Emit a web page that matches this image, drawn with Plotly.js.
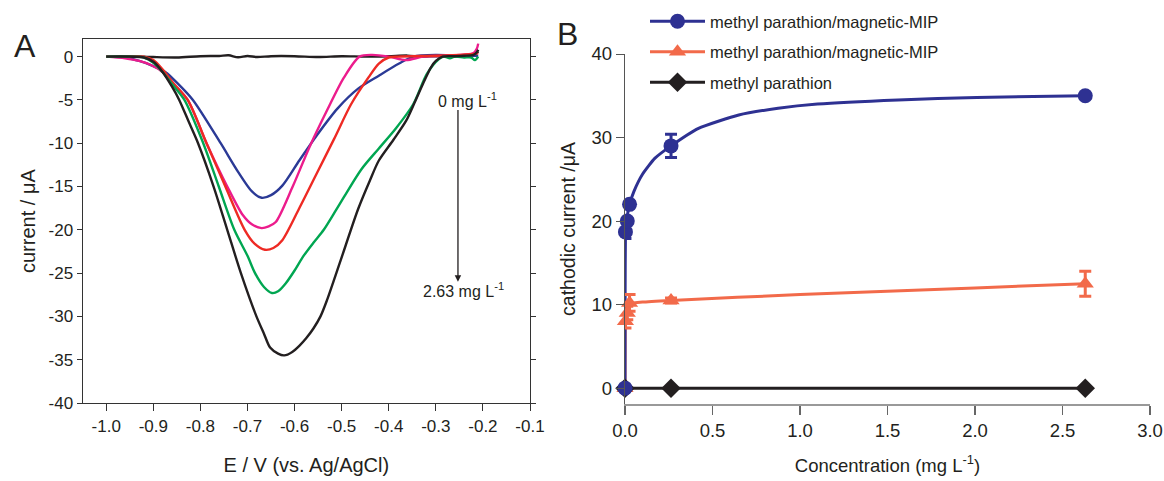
<!DOCTYPE html>
<html>
<head>
<meta charset="utf-8">
<script src="https://cdn.plot.ly/plotly-3.0.1.min.js"></script>
<style>html,body{margin:0;padding:0;background:#fff;}#chart{width:1164px;height:481px;}</style>
</head>
<body>
<div id="chart"></div>
<script>
// ---------- Panel A: voltammograms ----------
const blankE = [-1.0,-0.95,-0.9,-0.85,-0.8,-0.76,-0.74,-0.72,-0.7,-0.68,-0.65,-0.6,-0.55,-0.5,-0.45,-0.4,-0.36,-0.33,-0.3,-0.25,-0.22,-0.21];
const blankI = [0,0.05,-0.05,-0.1,0.05,0.08,0.15,-0.08,0.08,-0.05,0.05,0.05,-0.05,0.05,0,0.05,0.12,0,0.05,0,0.1,0.6];

const blueE = [-1.0,-0.96,-0.93,-0.904,-0.874,-0.85,-0.816,-0.757,-0.72,-0.69,-0.67,-0.65,-0.626,-0.59,-0.553,-0.509,-0.465,-0.421,-0.378,-0.348,-0.3,-0.25,-0.21];
const blueI = [0,-0.1,-0.5,-1.0,-1.8,-3.0,-5,-10,-13.3,-15.6,-16.3,-16.0,-14.9,-12,-9.1,-6.0,-3.7,-2.2,-0.8,0,0.2,0.1,0.1];

const magE = [-1.0,-0.96,-0.93,-0.904,-0.88,-0.86,-0.827,-0.787,-0.743,-0.71,-0.69,-0.67,-0.655,-0.64,-0.604,-0.568,-0.531,-0.495,-0.462,-0.436,-0.4,-0.363,-0.327,-0.28,-0.22,-0.213,-0.21];
const magI = [0,-0.2,-0.5,-1.0,-1.8,-3.0,-5,-10,-15,-18.3,-19.4,-19.8,-19.6,-19.1,-15,-10.4,-6.2,-2.4,0,0.2,0,-0.4,0,0.1,0.4,0.9,1.5];

const redE = [-1.0,-0.95,-0.92,-0.9,-0.88,-0.86,-0.827,-0.787,-0.747,-0.706,-0.685,-0.663,-0.645,-0.626,-0.589,-0.553,-0.516,-0.48,-0.443,-0.421,-0.4,-0.38,-0.3,-0.25,-0.22,-0.21];
const redI = [0,0,0,-0.4,-1.5,-2.9,-5,-10,-15,-20,-21.6,-22.3,-22.1,-21.2,-17.4,-13.5,-9.5,-5.5,-2.4,-0.8,-0.1,0,0.1,0.2,0.3,0.4];

const greenE = [-1.0,-0.95,-0.92,-0.9,-0.88,-0.86,-0.834,-0.794,-0.761,-0.728,-0.7,-0.684,-0.665,-0.648,-0.635,-0.619,-0.6,-0.582,-0.56,-0.538,-0.515,-0.495,-0.458,-0.421,-0.385,-0.348,-0.319,-0.294,-0.283,-0.27,-0.26,-0.24,-0.225,-0.217,-0.21];
const greenI = [0,0,-0.1,-0.7,-1.8,-3.2,-5,-10,-15,-20,-23,-25,-26.6,-27.3,-27.1,-26.2,-24.7,-23.1,-21.5,-20,-18,-16.2,-13.0,-10.6,-8.3,-5.5,-2.0,-0.3,0,-0.2,0,-0.1,-0.1,-0.4,0];

const blackE = [-1.0,-0.95,-0.92,-0.9,-0.88,-0.86,-0.845,-0.825,-0.805,-0.772,-0.743,-0.714,-0.681,-0.665,-0.652,-0.635,-0.622,-0.605,-0.59,-0.575,-0.56,-0.545,-0.531,-0.502,-0.465,-0.44,-0.421,-0.39,-0.363,-0.345,-0.327,-0.31,-0.3,-0.286,-0.26,-0.24,-0.22,-0.213,-0.21];
const blackI = [0,0,-0.1,-0.6,-1.8,-3.5,-5,-7.5,-10,-15,-20,-25,-30,-32,-33.6,-34.3,-34.5,-34.1,-33.4,-32.5,-31.4,-30.0,-28.1,-23.5,-17.6,-14.3,-12.0,-9.6,-7.4,-5.3,-3.1,-1.2,-0.5,0,0.05,0.1,0.2,0.5,0.8];

const aXTicks = [-1.0,-0.9,-0.8,-0.7,-0.6,-0.5,-0.4,-0.3,-0.2,-0.1];
const aXLabels = ["-1.0","-0.9","-0.8","-0.7","-0.6","-0.5","-0.4","-0.3","-0.2","-0.1"];
const aYTicks = [0,-5,-10,-15,-20,-25,-30,-35,-40];
const aYLabels = ["0","-5","-10","-15","-20","-25","-30","-35","-40"];

// ---------- Panel B: calibration ----------
const conc = [0,0.0026,0.013,0.026,0.263,2.63];
const mipI = [0,18.7,20.0,22.0,29.0,35.0];
const mipErr = [0,0.8,0.3,0.3,1.4,0.3];
const nipI = [0,8.0,9.0,10.2,10.5,12.5];
const nipErr = [0,0.8,0.8,1.0,0.3,1.5];
const mpConc = [0,0.263,2.63];
const mpI = [0,0,0];

const mipFitX = [0,0.0008,0.0026,0.006,0.013,0.026,0.05,0.1,0.17,0.263,0.42,0.65,0.875,1.1,1.56,2.01,2.63];
const mipFitY = [0,12,18.2,19.5,20.6,22.0,23.5,25.6,27.5,29.0,31.1,32.7,33.5,34.0,34.5,34.8,35.0];
const nipFitX = [0,0.0008,0.003,0.013,0.026,0.1,0.263,1.0,2.0,2.63];
const nipFitY = [0,7,9.4,9.9,10.1,10.3,10.5,11.2,12.0,12.5];

const bXTicks = [0,0.5,1.0,1.5,2.0,2.5,3.0];
const bXLabels = ["0.0","0.5","1.0","1.5","2.0","2.5","3.0"];
const bYTicks = [0,10,20,30,40];

const legendNames = ["methyl parathion/magnetic-MIP","methyl parathion/magnetic-MIP","methyl parathion"];

const cBlue = "#2e3192", cOrange = "#f26a4a", cBlack = "#231f20";
const FONT = "Liberation Sans, Arial, sans-serif";

function vt(x, y, color) {
  return {x:x, y:y, mode:"lines", type:"scatter", xaxis:"x", yaxis:"y", showlegend:false,
    line:{color:color, width:2.4, shape:"spline", smoothing:0.8}, hoverinfo:"skip"};
}

const MS = 15;
const traces = [
  vt(blankE, blankI, cBlack),
  vt(blueE, blueI, "#2b3a96"),
  vt(magE, magI, "#ec1c8c"),
  vt(redE, redI, "#ee2a24"),
  vt(greenE, greenI, "#00a651"),
  vt(blackE, blackI, cBlack),
  // Panel B fits
  {x:mpConc, y:mpI, mode:"lines", xaxis:"x2", yaxis:"y2", showlegend:false, line:{color:cBlack, width:3}},
  {x:nipFitX, y:nipFitY, mode:"lines", xaxis:"x2", yaxis:"y2", showlegend:false, line:{color:cOrange, width:3, shape:"spline", smoothing:0.5}},
  {x:mipFitX, y:mipFitY, mode:"lines", xaxis:"x2", yaxis:"y2", showlegend:false, line:{color:cBlue, width:3, shape:"spline", smoothing:0.5}},
  // Panel B points
  {x:conc, y:nipI, mode:"markers", xaxis:"x2", yaxis:"y2", showlegend:false, cliponaxis:false,
    marker:{symbol:"triangle-up", size:MS, color:cOrange},
    error_y:{type:"data", array:nipErr, visible:true, color:cOrange, thickness:3, width:6}},
  {x:mpConc, y:mpI, mode:"markers", xaxis:"x2", yaxis:"y2", showlegend:false, cliponaxis:false,
    marker:{symbol:"diamond", size:MS, color:cBlack}},
  {x:conc, y:mipI, mode:"markers", xaxis:"x2", yaxis:"y2", showlegend:false, cliponaxis:false,
    marker:{symbol:"circle", size:MS, color:cBlue},
    error_y:{type:"data", array:mipErr, visible:true, color:cBlue, thickness:3, width:6}},
  // Legend entries
  {x:[null], y:[null], mode:"lines+markers", xaxis:"x2", yaxis:"y2", name:legendNames[0], legendgroup:"g1",
    line:{color:cBlue, width:3}, marker:{symbol:"circle", size:MS, color:cBlue}},
  {x:[null], y:[null], mode:"lines+markers", xaxis:"x2", yaxis:"y2", name:legendNames[1], legendgroup:"g2",
    line:{color:cOrange, width:3}, marker:{symbol:"triangle-up", size:MS, color:cOrange}},
  {x:[null], y:[null], mode:"lines+markers", xaxis:"x2", yaxis:"y2", name:legendNames[2], legendgroup:"g3",
    line:{color:cBlack, width:3}, marker:{symbol:"diamond", size:MS, color:cBlack}}
];

const L=80, R=10, T=0, B=0, W=1164-L-R, H=481-T-B;
function px(xp){return (xp-L)/W;}
function py(yp){return (481-B-yp)/H;}

const layout = {
  width:1164, height:481,
  margin:{l:L, r:R, t:T, b:B},
  paper_bgcolor:"#fff", plot_bgcolor:"rgba(0,0,0,0)",
  font:{family:FONT, color:"#231f20", size:14},
  showlegend:true,
  legend:{x:px(645), y:py(4), xanchor:"left", yanchor:"top", traceorder:"grouped", tracegroupgap:6,
    font:{family:FONT, size:16.5, color:"#231f20"}, bgcolor:"rgba(0,0,0,0)", itemwidth:55},
  xaxis:{domain:[px(82.7), px(530)], range:[-1.05,-0.1], tickvals:aXTicks, ticktext:aXLabels,
    showgrid:false, zeroline:false, showline:true, linecolor:"#333", linewidth:1.2, mirror:true,
    ticks:"outside", ticklen:7, tickcolor:"#333", tickfont:{size:17},
    title:{text:"E / V (vs. Ag/AgCl)", font:{size:20}, standoff:23}},
  yaxis:{domain:[py(403), py(39.3)], range:[-40,2], tickvals:aYTicks, ticktext:aYLabels,
    showgrid:false, zeroline:false, showline:true, linecolor:"#333", linewidth:1.2, mirror:"ticks",
    ticks:"outside", ticklen:5, tickcolor:"#333", tickfont:{size:17},
    title:{text:"current / μA", font:{size:20}, standoff:7}},
  xaxis2:{domain:[px(625), px(1150)], range:[0,3], anchor:"y2", tickvals:bXTicks, ticktext:bXLabels,
    showgrid:false, zeroline:false, showline:true, linecolor:"#999", linewidth:1.6,
    ticks:"outside", ticklen:9, tickcolor:"#666", tickwidth:1.2, tickfont:{size:18.5},
    title:{text:"Concentration (mg L<sup>-1</sup>)", font:{size:18.5}, standoff:19}},
  yaxis2:{domain:[py(404), py(54)], range:[-1.9,40], anchor:"x2", tickvals:bYTicks,
    showgrid:false, zeroline:false, showline:true, linecolor:"#555", linewidth:1.3,
    ticks:"outside", ticklen:8, tickcolor:"#555", tickfont:{size:18.5},
    title:{text:"cathodic current /μA", font:{size:19.5}, standoff:10}},
  annotations:[
    {xref:"paper", yref:"paper", x:px(12), y:py(46), text:"A", showarrow:false, xanchor:"left", yanchor:"middle", font:{size:32, color:"#231f20"}},
    {xref:"paper", yref:"paper", x:px(555), y:py(34), text:"B", showarrow:false, xanchor:"left", yanchor:"middle", font:{size:32, color:"#231f20"}},
    {xref:"x", yref:"y", x:-0.300, y:-5.0, text:"0 mg L<sup>-1</sup>", showarrow:false, xanchor:"left", yanchor:"middle", font:{size:16}},
    {xref:"x", yref:"y", x:-0.332, y:-27.0, text:"2.63 mg L<sup>-1</sup>", showarrow:false, xanchor:"left", yanchor:"middle", font:{size:16}},
    {xref:"x", yref:"y", axref:"x", ayref:"y", x:-0.253, y:-26.0, ax:-0.253, ay:-6.0, text:"", showarrow:true,
      arrowhead:2, arrowsize:1, arrowwidth:1.3, arrowcolor:"#231f20"}
  ]
};

Plotly.newPlot("chart", traces, layout, {displayModeBar:false, staticPlot:true});
</script>
</body>
</html>
